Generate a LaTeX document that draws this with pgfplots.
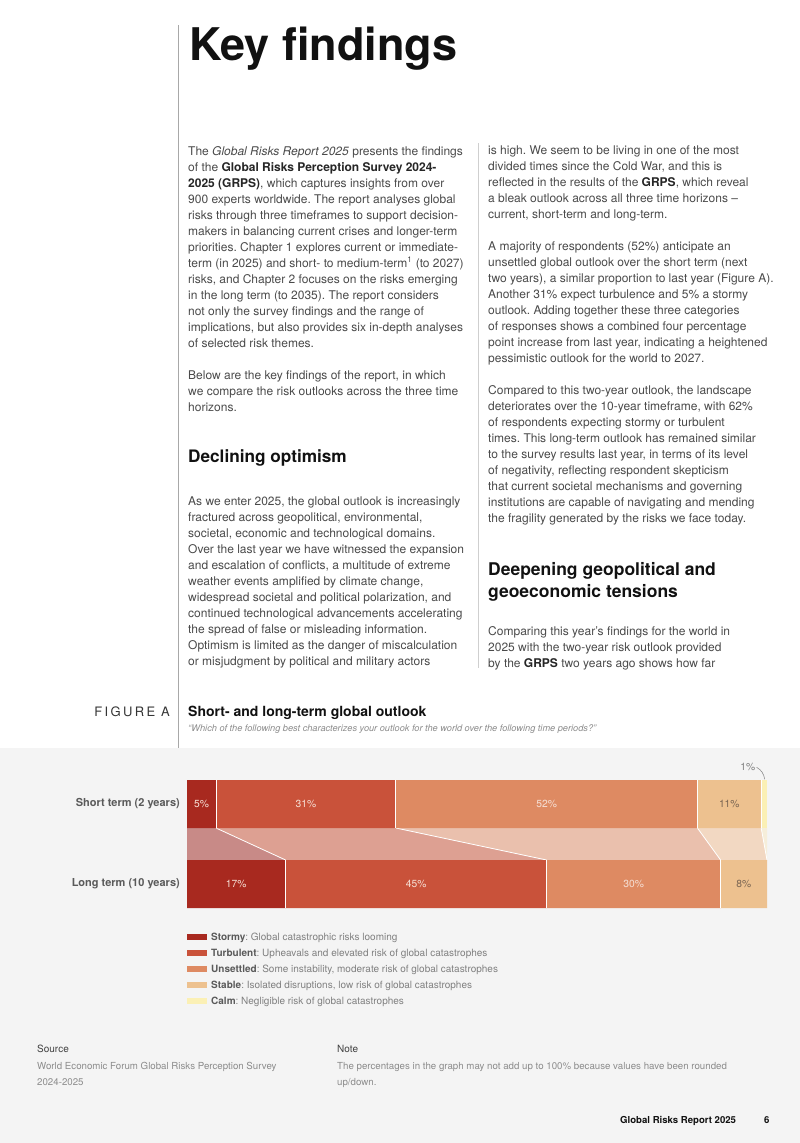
\documentclass[border=0pt]{standalone}
\usepackage{pgfplots}
\pgfplotsset{compat=1.18}
\usepackage{fontspec}
\setmainfont{TeX Gyre Heros}
\frenchspacing
\definecolor{bodytxt}{HTML}{4A4A4A}
\definecolor{strongtxt}{HTML}{262626}
\definecolor{headtxt}{HTML}{111111}
\definecolor{bggray}{HTML}{F4F4F4}
\definecolor{vline}{HTML}{A8A8A8}
\definecolor{vline2}{HTML}{CFCFCF}
\definecolor{subtxt}{HTML}{8C8C8C}
\definecolor{labtxt}{HTML}{5A5A5A}
\definecolor{legtxt}{HTML}{808080}
\definecolor{legbold}{HTML}{5A5A5A}
\definecolor{barlab}{HTML}{F6E0D6}
\definecolor{barlabdark}{HTML}{7A6552}
\definecolor{stormy}{HTML}{A8291F}
\definecolor{turbulent}{HTML}{C9523A}
\definecolor{unsettled}{HTML}{DE8A62}
\definecolor{stable}{HTML}{EDC18F}
\definecolor{calm}{HTML}{FBF0B5}
\definecolor{bstormy}{HTML}{C88A87}
\definecolor{bturbulent}{HTML}{DDA092}
\definecolor{bunsettled}{HTML}{EAC0AD}
\definecolor{bstable}{HTML}{F2D8C2}
\definecolor{bcalm}{HTML}{F6EEDA}
\tikzset{barlabel/.style={font=\fontsize{10.3}{10.3}\selectfont, inner sep=0pt}}
\begin{document}
\begin{tikzpicture}[x=1pt,y=-1pt]
\fill[white] (0,0) rectangle (800,1143);
\useasboundingbox (0,0) rectangle (800,1143);
\fill[bggray] (0,748) rectangle (800,1143);
\draw[vline, line width=0.9pt] (178,25) -- (178,748);
\draw[vline2, line width=0.8pt] (478,143) -- (478,668);

% Title
\node[anchor=base west, inner sep=0pt, font=\fontsize{45}{45}\selectfont\bfseries, text=headtxt] at (189,60) {Key findings};

% Left column
\node[anchor=north west, inner sep=0pt, align=left, font=\fontsize{12}{16}\selectfont, text=bodytxt] at (188,146) {%
The \textit{Global Risks Report 2025} presents the findings\\
of the {\color{strongtxt}\textbf{Global Risks Perception Survey 2024-}}\\
{\color{strongtxt}\textbf{2025 (GRPS)}}, which captures insights from over\\
900 experts worldwide. The report analyses global\\
risks through three timeframes to support decision-\\
makers in balancing current crises and longer-term\\
priorities. Chapter 1 explores current or immediate-\\
term (in 2025) and short- to medium-term\textsuperscript{1} (to 2027)\\
risks, and Chapter 2 focuses on the risks emerging\\
in the long term (to 2035). The report considers\\
not only the survey findings and the range of\\
implications, but also provides six in-depth analyses\\
of selected risk themes.\\[16pt]
Below are the key findings of the report, in which\\
we compare the risk outlooks across the three time\\
horizons.};

\node[anchor=base west, inner sep=0pt, font=\fontsize{17.2}{17.2}\selectfont\bfseries, text=headtxt] at (188,462) {Declining optimism};

\node[anchor=north west, inner sep=0pt, align=left, font=\fontsize{12}{16}\selectfont, text=bodytxt] at (188,497) {%
As we enter 2025, the global outlook is increasingly\\
fractured across geopolitical, environmental,\\
societal, economic and technological domains.\\
Over the last year we have witnessed the expansion\\
and escalation of conflicts, a multitude of extreme\\
weather events amplified by climate change,\\
widespread societal and political polarization, and\\
continued technological advancements accelerating\\
the spread of false or misleading information.\\
Optimism is limited as the danger of miscalculation\\
or misjudgment by political and military actors};

% Right column
\node[anchor=north west, inner sep=0pt, align=left, font=\fontsize{12}{16}\selectfont, text=bodytxt] at (488,146) {%
is high. We seem to be living in one of the most\\
divided times since the Cold War, and this is\\
reflected in the results of the {\color{strongtxt}\textbf{GRPS}}, which reveal\\
a bleak outlook across all three time horizons –\\
current, short-term and long-term.\\[16pt]
A majority of respondents (52\%) anticipate an\\
unsettled global outlook over the short term (next\\
two years), a similar proportion to last year (Figure A).\\
Another 31\% expect turbulence and 5\% a stormy\\
outlook. Adding together these three categories\\
of responses shows a combined four percentage\\
point increase from last year, indicating a heightened\\
pessimistic outlook for the world to 2027.\\[16pt]
Compared to this two-year outlook, the landscape\\
deteriorates over the 10-year timeframe, with 62\%\\
of respondents expecting stormy or turbulent\\
times. This long-term outlook has remained similar\\
to the survey results last year, in terms of its level\\
of negativity, reflecting respondent skepticism\\
that current societal mechanisms and governing\\
institutions are capable of navigating and mending\\
the fragility generated by the risks we face today.};

\node[anchor=base west, inner sep=0pt, font=\fontsize{17.5}{17.5}\selectfont\bfseries, text=headtxt] at (488,575) {Deepening geopolitical and};
\node[anchor=base west, inner sep=0pt, font=\fontsize{17.5}{17.5}\selectfont\bfseries, text=headtxt] at (488,597) {geoeconomic tensions};

\node[anchor=north west, inner sep=0pt, align=left, font=\fontsize{12}{16}\selectfont, text=bodytxt] at (488,626) {%
Comparing this year’s findings for the world in\\
2025 with the two-year risk outlook provided\\
by the {\color{strongtxt}\textbf{GRPS}} two years ago shows how far};

% Figure header
\node[anchor=base east, inner sep=0pt, font=\fontsize{13}{13}\selectfont\addfontfeature{LetterSpace=18}, text=headtxt!85] at (170,716) {FIGURE A};
\node[anchor=base west, inner sep=0pt, font=\fontsize{14}{14}\selectfont\bfseries, text=headtxt] at (188,716) {Short- and long-term global outlook};
\node[anchor=base west, inner sep=0pt, font=\fontsize{9.2}{9.2}\selectfont\itshape, text=subtxt] at (188,731) {“Which of the following best characterizes your outlook for the world over the following time periods?”};

% Row labels
\node[anchor=east, inner sep=0pt, font=\fontsize{11}{11}\selectfont\bfseries, text=labtxt] at (180,804) {Short term (2 years)};
\node[anchor=east, inner sep=0pt, font=\fontsize{11}{11}\selectfont\bfseries, text=labtxt] at (180,884) {Long term (10 years)};

% Bands between bars
\begin{axis}[at={(187pt,-908pt)}, anchor=south west, scale only axis,
  width=580pt, height=128pt, xmin=0, xmax=100, ymin=-0.3, ymax=1.3,
  hide axis, clip=false, no markers]
\addplot[fill=bstormy, draw=none] coordinates {(0,0.7) (5,0.7) (17,0.3) (0,0.3) (0,0.7)};
\addplot[fill=bturbulent, draw=none] coordinates {(5,0.7) (36,0.7) (62,0.3) (17,0.3) (5,0.7)};
\addplot[fill=bunsettled, draw=none] coordinates {(36,0.7) (88,0.7) (92,0.3) (62,0.3) (36,0.7)};
\addplot[fill=bstable, draw=none] coordinates {(88,0.7) (99,0.7) (100,0.3) (92,0.3) (88,0.7)};
\addplot[fill=bcalm, draw=none] coordinates {(99,0.7) (100,0.7) (100,0.3) (99,0.7)};
\addplot[white, line width=0.8pt] coordinates {(5,0.7) (17,0.3)};
\addplot[white, line width=0.8pt] coordinates {(36,0.7) (62,0.3)};
\addplot[white, line width=0.8pt] coordinates {(88,0.7) (92,0.3)};
\addplot[white, line width=0.8pt] coordinates {(99,0.7) (100,0.3)};
\end{axis}

% Stacked bars
\begin{axis}[at={(187pt,-908pt)}, anchor=south west, scale only axis,
  width=580pt, height=128pt, xmin=0, xmax=100, ymin=-0.3, ymax=1.3,
  hide axis, clip=false, xbar stacked, bar width=48pt]
\addplot[fill=stormy, draw=none] coordinates {(5,1) (17,0)};
\addplot[fill=turbulent, draw=none] coordinates {(31,1) (45,0)};
\addplot[fill=unsettled, draw=none] coordinates {(52,1) (30,0)};
\addplot[fill=stable, draw=none] coordinates {(11,1) (8,0)};
\addplot[fill=calm, draw=none] coordinates {(1,1) (0,0)};
\end{axis}

% Separators, value labels and legend
\begin{axis}[at={(187pt,-908pt)}, anchor=south west, scale only axis,
  width=580pt, height=128pt, xmin=0, xmax=100, ymin=-0.3, ymax=1.3,
  hide axis, clip=false, no markers,
  legend style={at={(axis description cs:0,-0.19)}, anchor=north west,
    draw=none, fill=none, font=\fontsize{10}{10}\selectfont, text=legtxt,
    inner sep=0pt, row sep=6.5pt, column sep=4pt,
    nodes={inner xsep=0pt, inner ysep=0pt, text height=7.5pt, text depth=2pt}},
  legend cell align=left,
  legend image code/.code={\fill[#1] (0pt,-2.8pt) rectangle (20pt,2.8pt);}]
\addlegendimage{fill=stormy, draw=none}
\addlegendentry{{\color{legbold}\textbf{Stormy}}: Global catastrophic risks looming}
\addlegendimage{fill=turbulent, draw=none}
\addlegendentry{{\color{legbold}\textbf{Turbulent}}: Upheavals and elevated risk of global catastrophes}
\addlegendimage{fill=unsettled, draw=none}
\addlegendentry{{\color{legbold}\textbf{Unsettled}}: Some instability, moderate risk of global catastrophes}
\addlegendimage{fill=stable, draw=none}
\addlegendentry{{\color{legbold}\textbf{Stable}}: Isolated disruptions, low risk of global catastrophes}
\addlegendimage{fill=calm, draw=none}
\addlegendentry{{\color{legbold}\textbf{Calm}}: Negligible risk of global catastrophes}
\addplot[white, line width=0.7pt, forget plot] coordinates {(5,0.7) (5,1.3)};
\addplot[white, line width=0.7pt, forget plot] coordinates {(36,0.7) (36,1.3)};
\addplot[white, line width=0.7pt, forget plot] coordinates {(88,0.7) (88,1.3)};
\addplot[white, line width=0.5pt, forget plot] coordinates {(99,0.7) (99,1.3)};
\addplot[white, line width=0.7pt, forget plot] coordinates {(17,-0.3) (17,0.3)};
\addplot[white, line width=0.7pt, forget plot] coordinates {(62,-0.3) (62,0.3)};
\addplot[white, line width=0.7pt, forget plot] coordinates {(92,-0.3) (92,0.3)};
\node[barlabel, text=barlab] at (axis cs:2.5,1) {5\%};
\node[barlabel, text=barlab] at (axis cs:20.5,1) {31\%};
\node[barlabel, text=barlab] at (axis cs:62,1) {52\%};
\node[barlabel, text=barlabdark] at (axis cs:93.5,1) {11\%};
\node[barlabel, text=barlab] at (axis cs:8.5,0) {17\%};
\node[barlabel, text=barlab] at (axis cs:39.5,0) {45\%};
\node[barlabel, text=barlab] at (axis cs:77,0) {30\%};
\node[barlabel, text=barlabdark] at (axis cs:96,0) {8\%};
\node[barlabel, text=legtxt, anchor=base east] at (axis cs:98,1.42) {1\%};
\draw[legtxt, line width=0.5pt] (axis cs:98.2,1.46) to[bend left=25] (axis cs:99.6,1.31);
\end{axis}

% Source and note
\node[anchor=base west, inner sep=0pt, font=\fontsize{10}{10}\selectfont, text=headtxt!80] at (37,1052) {Source};
\node[anchor=north west, inner sep=0pt, align=left, font=\fontsize{9.7}{16}\selectfont, text=subtxt] at (37,1062) {World Economic Forum Global Risks Perception Survey\\2024-2025};
\node[anchor=base west, inner sep=0pt, font=\fontsize{10}{10}\selectfont, text=headtxt!80] at (337,1052) {Note};
\node[anchor=north west, inner sep=0pt, align=left, font=\fontsize{9.7}{16}\selectfont, text=subtxt] at (337,1062) {The percentages in the graph may not add up to 100\% because values have been rounded\\up/down.};

% Footer
\node[anchor=base west, inner sep=0pt, font=\fontsize{9.6}{9.6}\selectfont\bfseries, text=headtxt] at (620,1123) {Global Risks Report 2025};
\node[anchor=base west, inner sep=0pt, font=\fontsize{9.6}{9.6}\selectfont\bfseries, text=headtxt] at (764,1123) {6};
\end{tikzpicture}
\end{document}
